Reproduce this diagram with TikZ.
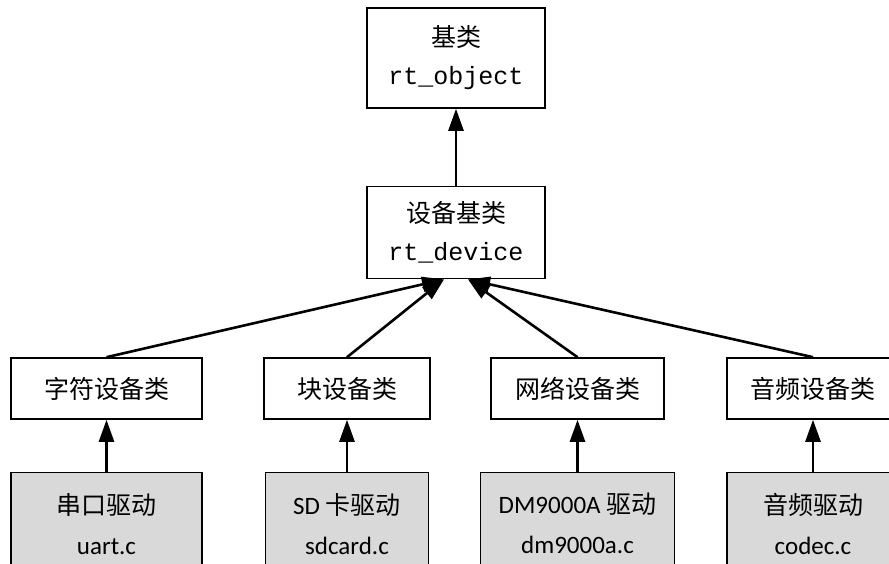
\documentclass[tikz,border=0pt]{standalone}
\usepackage{fontspec}
\setmainfont{Carlito}
\setmonofont{Liberation Mono}
\newfontfamily\cjk{Noto Sans CJK SC}
\usetikzlibrary{arrows.meta,positioning}

\begin{document}
\begin{tikzpicture}[x=1pt,y=-1pt]
 \tikzstyle{arrow} = [-{Triangle[length=22pt,width=15pt]},line width=2.6pt];
 \tikzstyle{box} = [draw=black,line width=1.6pt,inner sep=0pt,align=center,
                    font={\fontsize{25}{38}\selectfont}];
 \tikzstyle{boxW} = [fill=white];
 \tikzstyle{boxG} = [fill=black!15,font={\fontsize{25}{40}\selectfont}];

 \useasboundingbox (0,0) rectangle (889,564);

 % base classes
 \node[box,boxW,name=obj,minimum width=178pt,minimum height=100pt] at (456,58)
                                        {{\cjk 基类}\\\texttt{rt\_object}};
 \node[box,boxW,name=dev,minimum width=178pt,minimum height=92pt,below=77pt of obj]
                                        {{\cjk 设备基类}\\\texttt{rt\_device}};

 % device classes
 \node[box,boxW,name=chr,minimum width=191pt,minimum height=61pt] at (106.5,388.5)
                                        {\cjk 字符设备类};
 \node[box,boxW,name=blk,minimum width=166pt,minimum height=61pt] at (347,388.5)
                                        {\cjk 块设备类};
 \node[box,boxW,name=net,minimum width=173pt,minimum height=61pt] at (577.5,388.5)
                                        {\cjk 网络设备类};
 \node[box,boxW,name=snd,minimum width=172pt,minimum height=61pt] at (813,388.5)
                                        {\cjk 音频设备类};

 % drivers
 \node[box,boxG,name=uart,minimum width=191pt,minimum height=102pt,below=52pt of chr]
                                        {{\cjk 串口驱动}\\uart.c};
 \node[box,boxG,name=sd,minimum width=163pt,minimum height=102pt,below=52pt of blk]
                                        {SD {\cjk 卡驱动}\\sdcard.c};
 \node[box,boxG,name=dm,minimum width=194pt,minimum height=102pt,below=52pt of net]
                                        {DM9000A {\cjk 驱动}\\dm9000a.c};
 \node[box,boxG,name=codec,minimum width=172pt,minimum height=102pt,below=52pt of snd]
                                        {{\cjk 音频驱动}\\codec.c};

 \draw[arrow] (dev) -- (obj);
 \draw[arrow] (chr.north) -- ([xshift=-12pt]dev.south);
 \draw[arrow] (blk.north) -- ([xshift=-12pt]dev.south);
 \draw[arrow] (net.north) -- ([xshift=12pt]dev.south);
 \draw[arrow] (snd.north) -- ([xshift=12pt]dev.south);
 \draw[arrow] (uart) -- (chr);
 \draw[arrow] (sd) -- (blk);
 \draw[arrow] (dm) -- (net);
 \draw[arrow] (codec) -- (snd);
\end{tikzpicture}
\end{document}
